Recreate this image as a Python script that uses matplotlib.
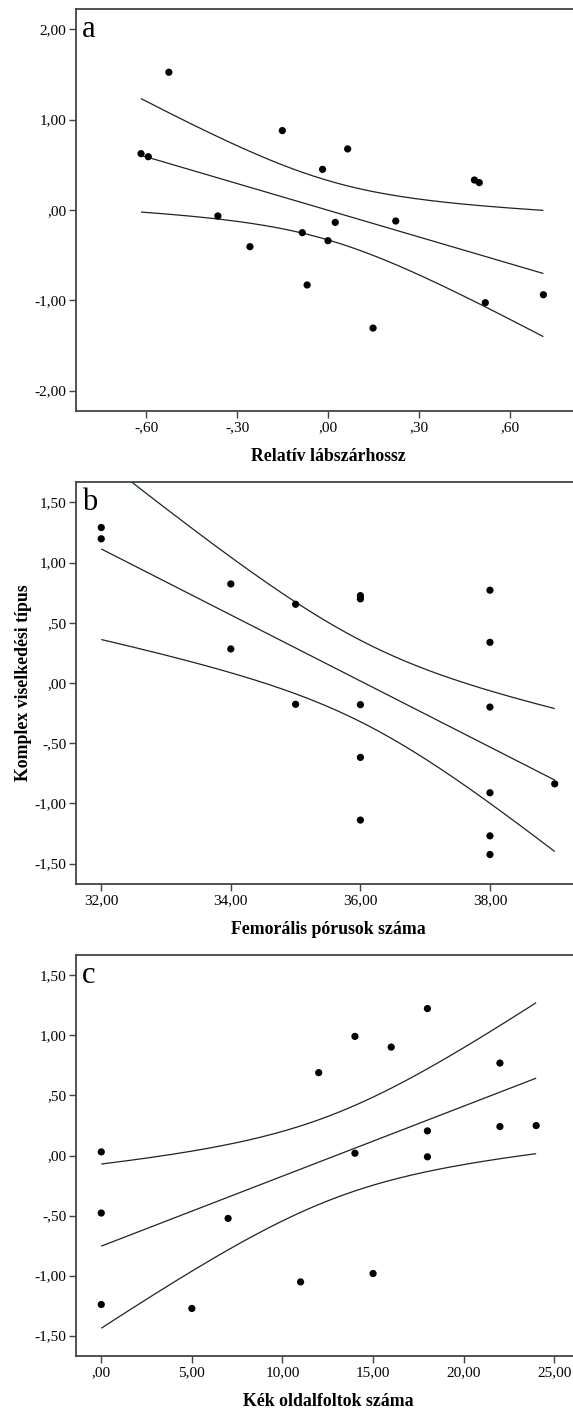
import numpy as np
import matplotlib
matplotlib.use("Agg")
import matplotlib.pyplot as plt

# ---------------- data ----------------
# Panel a
a_x = [-0.526, -0.618, -0.594, -0.151, 0.065, -0.018, 0.484, 0.500, -0.364,
       -0.258, -0.085, 0.024, 0.000, 0.224, -0.069, 0.149, 0.520, 0.712]
a_y = [1.525, 0.624, 0.590, 0.879, 0.676, 0.450, 0.332, 0.303, -0.066,
       -0.406, -0.251, -0.137, -0.340, -0.122, -0.830, -1.307, -1.026, -0.938]
a_xticks = [-0.60, -0.30, 0.00, 0.30, 0.60]
a_xticklabels = ["-,60", "-,30", ",00", ",30", ",60"]
a_yticks = [2.0, 1.0, 0.0, -1.0, -2.0]
a_yticklabels = ["2,00", "1,00", ",00", "-1,00", "-2,00"]
a_xlabel = "Relatív lábszárhossz"

# Panel b
b_x = [32, 32, 34, 34, 35, 35, 36, 36, 36, 36, 36, 38, 38, 38, 38, 38, 38, 39]
b_y = [1.292, 1.198, 0.823, 0.283, 0.654, -0.177, 0.726, 0.699, -0.180,
       -0.618, -1.139, 0.771, 0.338, -0.200, -0.912, -1.270, -1.425, -0.838]
b_xticks = [32, 34, 36, 38]
b_xticklabels = ["32,00", "34,00", "36,00", "38,00"]
b_yticks = [1.5, 1.0, 0.5, 0.0, -0.5, -1.0, -1.5]
b_yticklabels = ["1,50", "1,00", ",50", ",00", "-,50", "-1,00", "-1,50"]
b_xlabel = "Femorális pórusok száma"
b_ylabel = "Komplex viselkedési típus"

# Panel c
c_x = [0, 0, 0, 5, 7, 11, 12, 14, 14, 15, 16, 18, 18, 18, 22, 22, 24]
c_y = [0.030, -0.479, -1.241, -1.274, -0.524, -1.053, 0.690, 0.992, 0.019,
       -0.983, 0.903, 1.224, 0.205, -0.011, 0.770, 0.241, 0.249]
c_xticks = [0, 5, 10, 15, 20, 25]
c_xticklabels = [",00", "5,00", "10,00", "15,00", "20,00", "25,00"]
c_yticks = [1.5, 1.0, 0.5, 0.0, -0.5, -1.0, -1.5]
c_yticklabels = ["1,50", "1,00", ",50", ",00", "-,50", "-1,00", "-1,50"]
c_xlabel = "Kék oldalfoltok száma"

panel_letters = ["a", "b", "c"]

# Student t 0.975 quantiles by degrees of freedom
T_CRIT = {15: 2.131, 16: 2.120}


def fit_ci(x, y):
    x = np.asarray(x, float)
    y = np.asarray(y, float)
    n = len(x)
    slope, icpt = np.polyfit(x, y, 1)
    xs = np.linspace(x.min(), x.max(), 300)
    yhat = icpt + slope * xs
    resid = y - (icpt + slope * x)
    s = np.sqrt(np.sum(resid ** 2) / (n - 2))
    sxx = np.sum((x - x.mean()) ** 2)
    se = s * np.sqrt(1.0 / n + (xs - x.mean()) ** 2 / sxx)
    t = T_CRIT[n - 2]
    return xs, yhat, yhat - t * se, yhat + t * se


W, H = 573, 1409
fig = plt.figure(figsize=(W / 100, H / 100), dpi=100)
fig.patch.set_facecolor("white")

SERIF = ["Liberation Serif", "DejaVu Serif"]
SPINE_C = "#3b4747"
LINE_C = "#1b2424"

panels = [
    dict(x=a_x, y=a_y, xt=a_xticks, xtl=a_xticklabels, yt=a_yticks, ytl=a_yticklabels,
         xl=a_xlabel, yl=None, xlim=(-0.833, 0.833), ylim=(-2.225, 2.225), top=9, bottom=411),
    dict(x=b_x, y=b_y, xt=b_xticks, xtl=b_xticklabels, yt=b_yticks, ytl=b_yticklabels,
         xl=b_xlabel, yl=b_ylabel, xlim=(31.61, 39.39), ylim=(-1.67, 1.67), top=482, bottom=884),
    dict(x=c_x, y=c_y, xt=c_xticks, xtl=c_xticklabels, yt=c_yticks, ytl=c_yticklabels,
         xl=c_xlabel, yl=None, xlim=(-1.394, 26.42), ylim=(-1.67, 1.67), top=955, bottom=1356),
]

left_px = 76.0
width_px = 504.0

for p, letter in zip(panels, panel_letters):
    ax = fig.add_axes([left_px / W, 1 - p["bottom"] / H, width_px / W, (p["bottom"] - p["top"]) / H])
    ax.set_xlim(*p["xlim"])
    ax.set_ylim(*p["ylim"])

    xs, yhat, lo, hi = fit_ci(p["x"], p["y"])
    for yy in (hi, yhat, lo):
        ax.plot(xs, yy, color=LINE_C, lw=0.9, solid_capstyle="butt")
    ax.scatter(p["x"], p["y"], s=27, color="black", edgecolors="none", zorder=3)

    ax.set_xticks(p["xt"])
    ax.set_xticklabels(p["xtl"], fontfamily=SERIF, fontsize=11)
    ax.set_yticks(p["yt"])
    ax.set_yticklabels(p["ytl"], fontfamily=SERIF, fontsize=11)
    ax.tick_params(direction="out", length=5, width=1.0, color=SPINE_C, pad=2)

    for side in ("left", "bottom", "top", "right"):
        ax.spines[side].set_color(SPINE_C)
        ax.spines[side].set_linewidth(1.3)

    ax.set_xlabel(p["xl"], fontfamily=SERIF, fontweight="bold", fontsize=12.8, labelpad=10)
    if p["yl"]:
        ax.set_ylabel(p["yl"], fontfamily=SERIF, fontweight="bold", fontsize=12.8, labelpad=1.7)

    ax.text(0.012, 0.985, letter, transform=ax.transAxes, ha="left", va="top",
            fontfamily=SERIF, fontsize=22, color="black")

fig.savefig("out.png", dpi=100, facecolor="white")
